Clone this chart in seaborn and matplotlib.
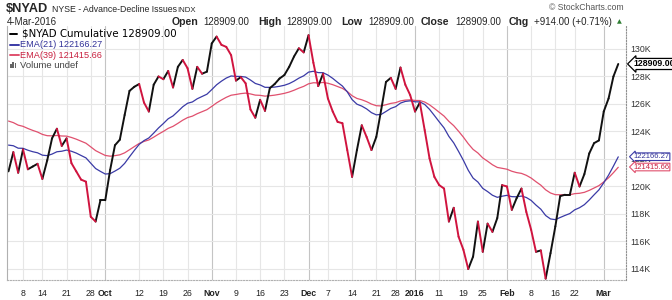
import numpy as np
import pandas as pd
import matplotlib
matplotlib.use("Agg")
import matplotlib.pyplot as plt
import seaborn as sns
from matplotlib.lines import Line2D
from matplotlib.patches import Rectangle

# ---------------- data ----------------
close = [121100, 122500, 121000, 122700, 121250, 121450, 121650, 120550, 121900, 123500,
         124200, 122950, 123500, 121700, 121100, 120500, 120350, 117800, 117450, 119000,
         119000, 121200, 123000, 123400, 125200, 126950, 127250, 127450, 126100, 125450,
         127400, 128000, 127800, 128400, 127200, 128700, 129200, 128600, 127100, 128700,
         128200, 128350, 130400, 130900, 130300, 130150, 129550, 127700, 127950, 127500,
         125600, 125000, 126300, 125500, 127150, 127450, 127850, 128100, 128700, 129450,
         130050, 129750, 131000, 129000, 127300, 128200, 126400, 125450, 124700, 124600,
         122650, 120700, 122650, 124450, 123600, 122650, 123600, 125550, 127600, 127900,
         127100, 128650, 127400, 126650, 125450, 126100, 124100, 122050, 120700, 120100,
         119850, 117450, 118450, 116350, 115400, 114000, 114900, 117450, 115250, 117300,
         116700, 117700, 120100, 120000, 118300, 119150, 119850, 118150, 116850, 115250,
         115350, 113300, 115150, 117100, 119300, 119400, 119400, 121000, 120000, 120900,
         122400, 123150, 123350, 125450, 126400, 127995, 128909]

tick_idx = [3, 7, 12, 17, 20, 27, 32, 37, 42, 47, 52, 57, 62, 66, 71, 76, 80, 84,
            89, 94, 98, 103, 108, 113, 117, 123]
tick_lbl = ['8', '14', '21', '28', 'Oct', '12', '19', '26', 'Nov', '9', '16', '23',
            'Dec', '7', '14', '21', '28', '2016', '11', '19', '25', 'Feb', '8', '16',
            '22', 'Mar']
major_lbl = ['Oct', 'Nov', 'Dec', '2016', 'Feb', 'Mar']

y_ticks = [114000, 116000, 118000, 120000, 122000, 124000, 126000, 128000, 130000]
y_tick_lbl = ['114K', '116K', '118K', '120K', '122K', '124K', '126K', '128K', '130K']

ema21_seed = 123200
ema39_seed = 124950
last_close = 128909.00
ema21_last = 122166.27
ema39_last = 121415.66
chg = 914.00
chg_pct = 0.71
date_str = '4-Mar-2016'

# ---------------- colours ----------------
C_UP = '#111111'
C_DN = '#d0143f'
C_E21 = '#3a3aa6'
C_E39 = '#e0506e'

sns.set_style('white')
plt.rcParams['font.family'] = ['Liberation Sans', 'DejaVu Sans']

W, H = 672, 300
fig = plt.figure(figsize=(W / 100, H / 100), dpi=100)


def fx(x):
    return x / W


def fy(y):
    return 1 - y / H


ax = fig.add_axes([fx(7), fy(280), (626 - 7) / W, (280 - 26) / H])

n = len(close)
df = pd.DataFrame({'i': np.arange(n), 'close': close})
s21 = pd.Series([ema21_seed] + close, dtype=float)
s39 = pd.Series([ema39_seed] + close, dtype=float)
df['ema21'] = s21.ewm(span=21, adjust=False).mean().iloc[1:].to_numpy()
df['ema39'] = s39.ewm(span=39, adjust=False).mean().iloc[1:].to_numpy()

sns.lineplot(data=df, x='i', y='ema39', color=C_E39, lw=0.9, ax=ax)
sns.lineplot(data=df, x='i', y='ema21', color=C_E21, lw=0.9, ax=ax)

rows = []
for k in range(1, n):
    d = 'up' if close[k] >= close[k - 1] else 'down'
    rows.append({'seg': k, 'i': k - 1, 'close': close[k - 1], 'dir': d})
    rows.append({'seg': k, 'i': k, 'close': close[k], 'dir': d})
seg = pd.DataFrame(rows)
sns.lineplot(data=seg, x='i', y='close', units='seg', estimator=None, hue='dir',
             palette={'up': C_UP, 'down': C_DN}, lw=1.4, legend=False, ax=ax,
             solid_capstyle='round')

ax.set_xlim(-0.31, 127.6)
ax.set_ylim(113200, 131670)
ax.set_xlabel('')
ax.set_ylabel('')

ax.set_xticks(tick_idx)
ax.set_xticklabels(tick_lbl)
for t in ax.get_xticklabels():
    if t.get_text() in major_lbl:
        t.set_fontweight('bold')
ax.tick_params(axis='x', length=0, pad=6.5, labelsize=6.3, labelcolor='#222222')

ax.yaxis.tick_right()
ax.set_yticks(y_ticks)
ax.set_yticklabels(y_tick_lbl)
ax.tick_params(axis='y', length=0, pad=3, labelsize=6.3, labelcolor='#333333')

ax.grid(True, color='#e6e6e6', lw=0.8)
ax.set_axisbelow(True)
for gl, lb in zip(ax.xaxis.get_gridlines(), tick_lbl):
    if lb in major_lbl:
        gl.set_color('#c4c4c4')

ax.spines['top'].set_visible(False)
ax.spines['left'].set_color('#b0b0b0')
ax.spines['left'].set_linewidth(0.8)
ax.spines['right'].set_color('#909090')
ax.spines['right'].set_linestyle((0, (1, 1.5)))
ax.spines['right'].set_linewidth(0.8)
ax.spines['bottom'].set_color('#b0b0b0')
ax.spines['bottom'].set_linestyle((0, (1, 1.5)))
ax.spines['bottom'].set_linewidth(0.8)

# right-hand value tags (cut off by the image edge, as in the original)
tr = ax.get_yaxis_transform()
ax.text(1.012, last_close, f'{last_close:.2f}', transform=tr, fontsize=6.3,
        fontweight='bold', color='black', va='center', ha='left', clip_on=False,
        bbox=dict(boxstyle='larrow,pad=0.12', fc='white', ec='black', lw=0.9))
ax.text(1.012, ema21_last, f'{ema21_last:.2f}', transform=tr, fontsize=5.5,
        color='#333399', va='center', ha='left', clip_on=False,
        bbox=dict(boxstyle='larrow,pad=0.04', fc='white', ec=C_E21, lw=0.8))
ax.text(1.012, ema39_last, f'{ema39_last:.2f}', transform=tr, fontsize=5.5,
        color='#c8203f', va='center', ha='left', clip_on=False,
        bbox=dict(boxstyle='larrow,pad=0.04', fc='white', ec=C_E39, lw=0.8))

# ---------------- header ----------------
fig.text(fx(6), fy(9.5), '$NYAD', fontsize=9.2, fontweight='bold', va='center')
fig.text(fx(52), fy(10), 'NYSE - Advance-Decline Issues', fontsize=6.3, va='center')
fig.text(fx(177), fy(10.3), 'INDX', fontsize=5.6, va='center')
fig.text(fx(624), fy(8), '\u00a9 StockCharts.com', fontsize=6.2, ha='right',
         va='center', color='#555555')

fig.text(fx(7), fy(22), date_str, fontsize=7, va='center')
cs = f'{last_close:.2f}'
pieces = [('Open', 172, True), (cs, 203, False), ('High', 258, True), (cs, 286, False),
          ('Low', 341, True), (cs, 368, False), ('Close', 421, True), (cs, 455, False),
          ('Chg', 509, True), (f'+{chg:.2f} (+{chg_pct:.2f}%)', 534, False)]
for txt, x, b in pieces:
    fig.text(fx(x), fy(22), txt, fontsize=7.6 if b else 7.0,
             fontweight='bold' if b else 'normal', va='center')
fig.text(fx(617), fy(22), '\u25b2', fontsize=4.5, va='center', color='#2e7d32',
         family=['DejaVu Sans'])

# ---------------- legend ----------------
fig.add_artist(Line2D([fx(10), fx(17)], [fy(33.5)] * 2, color='black', lw=1.4,
                      transform=fig.transFigure))
fig.text(fx(22), fy(33.5), f'$NYAD Cumulative {last_close:.2f}', fontsize=7.4,
         va='center', family=['DejaVu Sans'], color='black')
fig.add_artist(Line2D([fx(10), fx(19)], [fy(44.5)] * 2, color=C_E21, lw=1.4,
                      transform=fig.transFigure))
fig.text(fx(20), fy(44.5), f'EMA(21) {ema21_last:.2f}', fontsize=6.6, va='center',
         color='#333399')
fig.add_artist(Line2D([fx(10), fx(19)], [fy(55)] * 2, color=C_E39, lw=1.4,
                      transform=fig.transFigure))
fig.text(fx(20), fy(55), f'EMA(39) {ema39_last:.2f}', fontsize=6.6, va='center',
         color='#c8203f')
for bx, bh in [(10, 4), (12.4, 6.5), (14.8, 5)]:
    fig.add_artist(Rectangle((fx(bx), fy(68)), 1.6 / W, bh / H, color='#666666',
                             transform=fig.transFigure, lw=0))
fig.text(fx(20), fy(65), 'Volume undef', fontsize=6.8, va='center', color='#444444')

fig.savefig('out.png', dpi=100)
